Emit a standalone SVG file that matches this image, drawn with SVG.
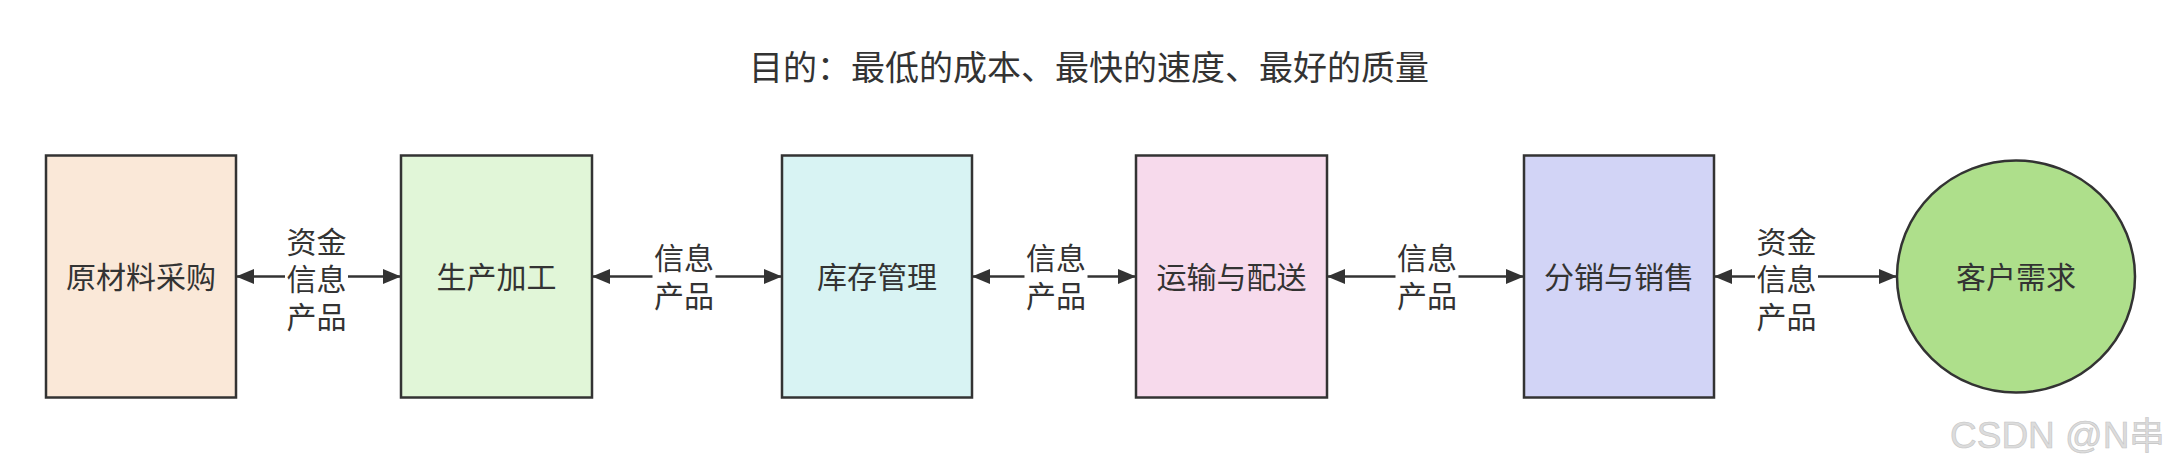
<svg xmlns="http://www.w3.org/2000/svg" width="2178" height="474" viewBox="0 0 2178 474">
<style>
text{font-family:"Noto Sans CJK SC","Noto Sans",sans-serif;fill:#333;}
.title{font-size:34px;}
.nl{font-size:30px;text-anchor:middle;}
.el{font-size:30px;text-anchor:middle;}
.box{stroke:#333;stroke-width:2.5;}
.edge{stroke:#333;stroke-width:2.7;fill:none;marker-start:url(#ah);marker-end:url(#ah);}
.lbg{fill:#fff;}
.wm{font-family:"Liberation Sans",Arial,sans-serif;font-size:37px;fill:#dcdcdc;stroke:#c4c4c4;stroke-width:0.6;}
</style>
<defs>
<marker id="ah" viewBox="0 0 18 15" refX="18" refY="7.5" markerWidth="18" markerHeight="15" markerUnits="userSpaceOnUse" orient="auto-start-reverse">
<path d="M0,0 L18,7.5 L0,15 z" fill="#333"/>
</marker>
</defs>
<rect width="2178" height="474" fill="#fff"/>
<text class="title" x="1089" y="80" text-anchor="middle">目的：最低的成本、最快的速度、最好的质量</text>

<g id="connectors">
<line class="edge" x1="236" y1="276.5" x2="401" y2="276.5"/>
<line class="edge" x1="592" y1="276.5" x2="782" y2="276.5"/>
<line class="edge" x1="972" y1="276.5" x2="1136" y2="276.5"/>
<line class="edge" x1="1327" y1="276.5" x2="1524" y2="276.5"/>
<line class="edge" x1="1714" y1="276.5" x2="1897" y2="276.5"/>
<g id="label-e1">
<rect class="lbg" x="285" y="225" width="63" height="108"/>
<text class="el" x="316.5" y="252.5"><tspan x="316.5">资金</tspan><tspan x="316.5" dy="37.5">信息</tspan><tspan x="316.5" dy="37.5">产品</tspan></text>
</g>
<g id="label-e2">
<rect class="lbg" x="652.5" y="243" width="63" height="70"/>
<text class="el" x="684" y="269"><tspan x="684">信息</tspan><tspan x="684" dy="37.5">产品</tspan></text>
</g>
<g id="label-e3">
<rect class="lbg" x="1024.5" y="243" width="63" height="70"/>
<text class="el" x="1056" y="269"><tspan x="1056">信息</tspan><tspan x="1056" dy="37.5">产品</tspan></text>
</g>
<g id="label-e4">
<rect class="lbg" x="1395.5" y="243" width="63" height="70"/>
<text class="el" x="1427" y="269"><tspan x="1427">信息</tspan><tspan x="1427" dy="37.5">产品</tspan></text>
</g>
<g id="label-e5">
<rect class="lbg" x="1755" y="225" width="63" height="108"/>
<text class="el" x="1786.5" y="252.5"><tspan x="1786.5">资金</tspan><tspan x="1786.5" dy="37.5">信息</tspan><tspan x="1786.5" dy="37.5">产品</tspan></text>
</g>
</g>

<g id="n1">
<rect class="box" x="46" y="155.5" width="190" height="242" fill="#FAE8D8"/>
<text class="nl" x="141" y="288">原材料采购</text>
</g>
<g id="n2">
<rect class="box" x="401" y="155.5" width="191" height="242" fill="#E1F6D8"/>
<text class="nl" x="496.5" y="288">生产加工</text>
</g>
<g id="n3">
<rect class="box" x="782" y="155.5" width="190" height="242" fill="#D8F3F3"/>
<text class="nl" x="877" y="288">库存管理</text>
</g>
<g id="n4">
<rect class="box" x="1136" y="155.5" width="191" height="242" fill="#F7DAEC"/>
<text class="nl" x="1231.5" y="288">运输与配送</text>
</g>
<g id="n5">
<rect class="box" x="1524" y="155.5" width="190" height="242" fill="#D2D4F6"/>
<text class="nl" x="1619" y="288">分销与销售</text>
</g>
<g id="n6">
<ellipse class="box" cx="2016" cy="276.5" rx="119" ry="116" fill="#AEDF8B"/>
<text class="nl" x="2016" y="288">客户需求</text>
</g>

<text class="wm" x="1950" y="448">CSDN @N串</text>
</svg>
